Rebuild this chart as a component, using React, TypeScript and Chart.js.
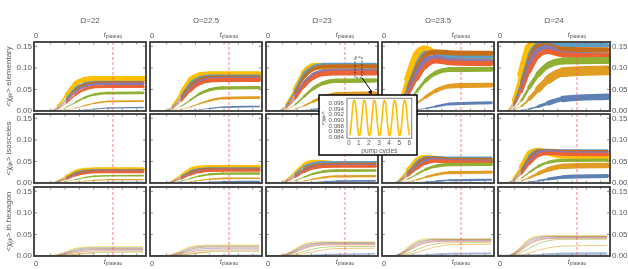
import React, { useEffect, useRef } from "react";
import { Chart, registerables } from "chart.js";

Chart.register(...registerables);

const FONT = "'Liberation Sans', Arial, sans-serif";
const TEXT = "#5a5a5a";
Chart.defaults.font.family = FONT;

// ---------- labels / ticks ----------
const OMEGA_LABELS = ["Ω=22", "Ω=22.5", "Ω=23", "Ω=23.5", "Ω=24"];
const ROW_NAMES = ["elementary", "isosceles", "in hexagon"];
const Y_TICK_VALUES = [0, 0.05, 0.1, 0.15];
const Y_MAX = 0.16;
const T_PLATEAU = 0.705;
const FRAME_X_TICKS = [0.149, 0.277, 0.405, 0.533, 0.661, 0.789, 0.917];

// ---------- time grids (fraction of run) ----------
const TIME_22 = [0, 0.13, 0.21, 0.29, 0.37, 0.45, 0.54, 0.66, 0.975];
const TIME_22_5 = [0, 0.12, 0.2, 0.28, 0.36, 0.44, 0.53, 0.65, 0.975];
const TIME_23 = [0, 0.1, 0.18, 0.26, 0.34, 0.42, 0.51, 0.63, 0.975];
const TIME_23_5 = [0, 0.08, 0.16, 0.23, 0.31, 0.39, 0.48, 0.6, 0.975];
const TIME_24 = [0, 0.07, 0.14, 0.21, 0.28, 0.36, 0.45, 0.58, 0.975];

const SERIES_COLORS = ["#5E81B5", "#E19C24", "#8FB032", "#EB6235", "#8778B3", "#C56E1A", "#5D9EC7", "#FFBF00"];

// ---------- elementary ----------
const ELEMENTARY_22 = [
  [0, 0, 0.0001, 0.0005, 0.0012, 0.0026, 0.0045, 0.0068, 0.008],
  [0, 0, 0.0007, 0.0028, 0.0069, 0.0124, 0.0179, 0.0221, 0.023],
  [0, 0, 0.0021, 0.0088, 0.0197, 0.0307, 0.0382, 0.0416, 0.042],
  [0, 0, 0.0046, 0.0188, 0.0376, 0.0502, 0.0559, 0.057, 0.057],
  [0, 0, 0.0057, 0.0233, 0.0441, 0.0567, 0.0617, 0.063, 0.063],
  [0, 0, 0.0066, 0.0264, 0.0495, 0.0614, 0.0653, 0.066, 0.066],
  [0, 0, 0.008, 0.0295, 0.0536, 0.0637, 0.067, 0.067, 0.067],
  [0, 0, 0.0113, 0.0375, 0.0638, 0.0728, 0.075, 0.075, 0.075],
];
const ELEMENTARY_22_5 = [
  [0, 0, 0.0002, 0.0006, 0.0016, 0.0034, 0.0059, 0.0089, 0.0105],
  [0, 0, 0.0009, 0.0037, 0.0093, 0.0167, 0.0242, 0.0298, 0.031],
  [0, 0, 0.0027, 0.0113, 0.0254, 0.0394, 0.0491, 0.0535, 0.054],
  [0, 0, 0.0058, 0.0238, 0.0475, 0.0634, 0.0706, 0.072, 0.072],
  [0, 0, 0.0068, 0.0281, 0.0532, 0.0684, 0.0745, 0.076, 0.076],
  [0, 0, 0.0079, 0.0316, 0.0593, 0.0735, 0.0782, 0.079, 0.079],
  [0, 0, 0.0097, 0.0356, 0.0648, 0.077, 0.081, 0.081, 0.081],
  [0, 0, 0.0128, 0.0425, 0.0723, 0.0825, 0.085, 0.085, 0.085],
];
const ELEMENTARY_23 = [
  [0, 0, 0.0002, 0.0007, 0.0018, 0.0038, 0.0067, 0.0102, 0.012],
  [0, 0, 0.0012, 0.0049, 0.0123, 0.0221, 0.032, 0.0394, 0.041],
  [0, 0, 0.0036, 0.0149, 0.0334, 0.0518, 0.0646, 0.0703, 0.071],
  [0, 0, 0.007, 0.029, 0.0581, 0.0774, 0.0862, 0.088, 0.088],
  [0, 0, 0.0085, 0.0348, 0.0658, 0.0846, 0.0921, 0.094, 0.094],
  [0, 0, 0.0104, 0.0416, 0.078, 0.0967, 0.103, 0.104, 0.104],
  [0, 0, 0.0128, 0.0471, 0.0856, 0.1017, 0.107, 0.107, 0.107],
  [0, 0, 0.015, 0.05, 0.087, 0.103, 0.104, 0.098, 0.097],
];
const ELEMENTARY_23_5 = [
  [0, 0, 0.0003, 0.0011, 0.0029, 0.0061, 0.0106, 0.0162, 0.019],
  [0, 0, 0.0018, 0.0072, 0.018, 0.0324, 0.0468, 0.0576, 0.06],
  [0, 0, 0.0049, 0.0204, 0.0456, 0.0708, 0.0883, 0.096, 0.097],
  [0, 0, 0.009, 0.036, 0.074, 0.104, 0.116, 0.112, 0.11],
  [0, 0, 0.011, 0.044, 0.087, 0.118, 0.124, 0.117, 0.115],
  [0, 0, 0.013, 0.052, 0.1, 0.13, 0.137, 0.135, 0.134],
  [0, 0, 0.015, 0.057, 0.108, 0.135, 0.133, 0.127, 0.126],
  [0, 0, 0.022, 0.075, 0.13, 0.143, 0.128, 0.116, 0.114],
];
const ELEMENTARY_24 = [
  [0, 0, 0.0005, 0.002, 0.005, 0.0106, 0.0185, 0.028, 0.033],
  [0, 0, 0.0028, 0.0113, 0.0282, 0.0508, 0.0733, 0.0902, 0.094],
  [0, 0, 0.0059, 0.0246, 0.055, 0.0854, 0.1065, 0.1158, 0.117],
  [0, 0, 0.011, 0.045, 0.092, 0.128, 0.138, 0.13, 0.128],
  [0, 0, 0.013, 0.053, 0.106, 0.142, 0.147, 0.132, 0.13],
  [0, 0, 0.016, 0.062, 0.118, 0.15, 0.151, 0.143, 0.142],
  [0, 0, 0.019, 0.07, 0.13, 0.155, 0.155, 0.153, 0.153],
  [0, 0, 0.024, 0.085, 0.145, 0.155, 0.145, 0.136, 0.135],
];

// ---------- isosceles ----------
const ISOSCELES_22 = [
  [0, 0, 0, 0.0001, 0.0003, 0.0006, 0.0011, 0.0017, 0.002],
  [0, 0, 0.0002, 0.001, 0.0024, 0.0043, 0.0062, 0.0077, 0.008],
  [0, 0, 0.0009, 0.0036, 0.008, 0.0124, 0.0155, 0.0168, 0.017],
  [0, 0, 0.002, 0.0084, 0.0168, 0.0224, 0.025, 0.0255, 0.0255],
  [0, 0, 0.0024, 0.01, 0.0189, 0.0243, 0.0265, 0.027, 0.027],
  [0, 0, 0.0029, 0.0116, 0.0218, 0.027, 0.0287, 0.029, 0.029],
  [0, 0, 0.0036, 0.0132, 0.024, 0.0285, 0.03, 0.03, 0.03],
  [0, 0, 0.0048, 0.016, 0.0272, 0.031, 0.032, 0.032, 0.032],
];
const ISOSCELES_22_5 = [
  [0, 0, 0.0001, 0.0002, 0.0005, 0.0011, 0.002, 0.003, 0.0035],
  [0, 0, 0.0003, 0.0013, 0.0033, 0.0059, 0.0086, 0.0106, 0.011],
  [0, 0, 0.0011, 0.0046, 0.0103, 0.0161, 0.02, 0.0218, 0.022],
  [0, 0, 0.0023, 0.0096, 0.0191, 0.0255, 0.0284, 0.029, 0.029],
  [0, 0, 0.0028, 0.0115, 0.0217, 0.0279, 0.0304, 0.031, 0.031],
  [0, 0, 0.0033, 0.0132, 0.0248, 0.0307, 0.0327, 0.033, 0.033],
  [0, 0, 0.0041, 0.015, 0.0272, 0.0323, 0.034, 0.034, 0.034],
  [0, 0, 0.0056, 0.0185, 0.0315, 0.0359, 0.037, 0.037, 0.037],
];
const ISOSCELES_23 = [
  [0, 0, 0.0001, 0.0003, 0.0008, 0.0016, 0.0028, 0.0043, 0.005],
  [0, 0, 0.0005, 0.0019, 0.0048, 0.0086, 0.0125, 0.0154, 0.016],
  [0, 0, 0.0015, 0.0061, 0.0136, 0.0212, 0.0264, 0.0287, 0.029],
  [0, 0, 0.0031, 0.0129, 0.0257, 0.0343, 0.0382, 0.039, 0.039],
  [0, 0, 0.0037, 0.0152, 0.0287, 0.0369, 0.0402, 0.041, 0.041],
  [0, 0, 0.0044, 0.0176, 0.033, 0.0409, 0.0436, 0.044, 0.044],
  [0, 0, 0.0058, 0.0211, 0.0384, 0.0456, 0.048, 0.048, 0.048],
  [0, 0, 0.0075, 0.025, 0.043, 0.05, 0.049, 0.0465, 0.046],
];
const ISOSCELES_23_5 = [
  [0, 0, 0.0001, 0.0005, 0.0011, 0.0024, 0.0042, 0.0064, 0.0075],
  [0, 0, 0.0008, 0.003, 0.0075, 0.0135, 0.0195, 0.024, 0.025],
  [0, 0, 0.0022, 0.009, 0.0202, 0.0314, 0.0391, 0.0426, 0.043],
  [0, 0, 0.004, 0.016, 0.033, 0.046, 0.051, 0.049, 0.048],
  [0, 0, 0.0047, 0.019, 0.038, 0.052, 0.055, 0.052, 0.051],
  [0, 0, 0.0055, 0.022, 0.043, 0.057, 0.058, 0.0555, 0.055],
  [0, 0, 0.0065, 0.025, 0.048, 0.059, 0.059, 0.058, 0.058],
  [0, 0, 0.009, 0.03, 0.053, 0.06, 0.057, 0.053, 0.052],
];
const ISOSCELES_24 = [
  [0, 0, 0.0002, 0.001, 0.0024, 0.0051, 0.009, 0.0136, 0.016],
  [0, 0, 0.0012, 0.0049, 0.0122, 0.0219, 0.0316, 0.0389, 0.0405],
  [0, 0, 0.0027, 0.0111, 0.0249, 0.0387, 0.0482, 0.0525, 0.053],
  [0, 0, 0.005, 0.021, 0.045, 0.064, 0.069, 0.067, 0.066],
  [0, 0, 0.006, 0.024, 0.051, 0.07, 0.073, 0.071, 0.07],
  [0, 0, 0.007, 0.028, 0.057, 0.074, 0.075, 0.0735, 0.073],
  [0, 0, 0.008, 0.032, 0.062, 0.076, 0.076, 0.075, 0.075],
  [0, 0, 0.011, 0.038, 0.068, 0.075, 0.07, 0.063, 0.062],
];

// ---------- in hexagon ----------
const HEXAGON_22 = [
  [0, 0, 0, 0.0001, 0.0002, 0.0003, 0.0006, 0.0009, 0.001],
  [0, 0, 0.0003, 0.0015, 0.0035, 0.0052, 0.006],
  [0, 0, 0.0005, 0.0019, 0.0042, 0.0066, 0.0082, 0.0089, 0.009],
  [0, 0, 0.001, 0.004, 0.0079, 0.0106, 0.0118, 0.012, 0.012],
  [0, 0, 0.0014, 0.0056, 0.0105, 0.0135, 0.0147, 0.015, 0.015],
  [0, 0, 0.0017, 0.0068, 0.0128, 0.0158, 0.0168, 0.017, 0.017],
  [0, 0, 0.0023, 0.0084, 0.0152, 0.0181, 0.019, 0.019, 0.019],
  [0, 0, 0.0032, 0.0105, 0.0179, 0.0204, 0.021, 0.021, 0.021],
];
const HEXAGON_22_5 = [
  [0, 0, 0, 0.0001, 0.0003, 0.0006, 0.0011, 0.0017, 0.002],
  [0, 0, 0.0004, 0.002, 0.0047, 0.007, 0.008],
  [0, 0, 0.0006, 0.0023, 0.0052, 0.008, 0.01, 0.0109, 0.011],
  [0, 0, 0.0011, 0.0046, 0.0092, 0.0123, 0.0137, 0.014, 0.014],
  [0, 0, 0.0016, 0.0067, 0.0126, 0.0162, 0.0176, 0.018, 0.018],
  [0, 0, 0.0021, 0.0084, 0.0158, 0.0195, 0.0208, 0.021, 0.021],
  [0, 0, 0.0028, 0.0101, 0.0184, 0.0219, 0.023, 0.023, 0.023],
  [0, 0, 0.0038, 0.0125, 0.0213, 0.0243, 0.025, 0.025, 0.025],
];
const HEXAGON_23 = [
  [0, 0, 0.0001, 0.0003, 0.0008, 0.0016, 0.0028, 0.0043, 0.005],
  [0, 0, 0.0005, 0.0022, 0.0054, 0.0097, 0.014, 0.0173, 0.018],
  [0, 0, 0.0011, 0.0046, 0.0103, 0.0161, 0.02, 0.0218, 0.022],
  [0, 0, 0.0021, 0.0086, 0.0172, 0.0229, 0.0255, 0.026, 0.026],
  [0, 0, 0.0025, 0.0104, 0.0196, 0.0252, 0.0274, 0.028, 0.028],
  [0, 0, 0.003, 0.012, 0.0225, 0.0279, 0.0297, 0.03, 0.03],
  [0, 0, 0.0037, 0.0136, 0.0248, 0.0295, 0.031, 0.031, 0.031],
  [0, 0, 0.0048, 0.016, 0.028, 0.0325, 0.033, 0.0322, 0.032],
];
const HEXAGON_23_5 = [
  [0, 0, 0.0001, 0.0004, 0.0009, 0.0019, 0.0034, 0.0051, 0.006],
  [0, 0, 0.0008, 0.0032, 0.0081, 0.0146, 0.0211, 0.0259, 0.027],
  [0, 0, 0.0016, 0.0065, 0.0146, 0.0226, 0.0282, 0.0307, 0.031],
  [0, 0, 0.0027, 0.0112, 0.0224, 0.0299, 0.0333, 0.034, 0.034],
  [0, 0, 0.0032, 0.0133, 0.0252, 0.0324, 0.0353, 0.036, 0.036],
  [0, 0, 0.0038, 0.0152, 0.0285, 0.0353, 0.0376, 0.038, 0.038],
  [0, 0, 0.0047, 0.0172, 0.0312, 0.0371, 0.039, 0.039, 0.039],
  [0, 0, 0.006, 0.02, 0.034, 0.04, 0.0398, 0.0392, 0.039],
];
const HEXAGON_24 = [
  [0, 0, 0.0001, 0.0004, 0.0009, 0.0019, 0.0034, 0.0051, 0.006],
  [0, 0, 0.0007, 0.0029, 0.0072, 0.013, 0.0187, 0.023, 0.024],
  [0, 0, 0.002, 0.0082, 0.0183, 0.0285, 0.0355, 0.0386, 0.039],
  [0, 0, 0.0033, 0.0135, 0.0271, 0.0361, 0.0402, 0.041, 0.041],
  [0, 0, 0.0039, 0.0159, 0.0301, 0.0387, 0.0421, 0.043, 0.043],
  [0, 0, 0.0045, 0.018, 0.0338, 0.0419, 0.0446, 0.045, 0.045],
  [0, 0, 0.0055, 0.0202, 0.0368, 0.0437, 0.046, 0.046, 0.046],
  [0, 0, 0.007, 0.023, 0.04, 0.047, 0.0468, 0.0462, 0.046],
];

// ---------- inset: one pump-cycle window ----------
const INSET_CYCLES = [
  0, 0.125, 0.25, 0.375, 0.5, 0.625, 0.75, 0.875,
  1, 1.125, 1.25, 1.375, 1.5, 1.625, 1.75, 1.875,
  2, 2.125, 2.25, 2.375, 2.5, 2.625, 2.75, 2.875,
  3, 3.125, 3.25, 3.375, 3.5, 3.625, 3.75, 3.875,
  4, 4.125, 4.25, 4.375, 4.5, 4.625, 4.75, 4.875,
  5, 5.125, 5.25, 5.375, 5.5, 5.625, 5.75, 5.875, 6,
];
const INSET_CHI = [
  0.0847, 0.0851, 0.0889, 0.0938, 0.097, 0.0966, 0.0928, 0.0879,
  0.0847, 0.0851, 0.0889, 0.0938, 0.097, 0.0966, 0.0928, 0.0879,
  0.0847, 0.0851, 0.0889, 0.0938, 0.097, 0.0966, 0.0928, 0.0879,
  0.0847, 0.0851, 0.0889, 0.0938, 0.097, 0.0966, 0.0928, 0.0879,
  0.0847, 0.0851, 0.0889, 0.0938, 0.097, 0.0966, 0.0928, 0.0879,
  0.0847, 0.0851, 0.0889, 0.0938, 0.097, 0.0966, 0.0928, 0.0879, 0.0847,
];
const INSET_X_TICKS = [0, 1, 2, 3, 4, 5, 6];
const INSET_Y_TICKS = [0.084, 0.086, 0.088, 0.09, 0.092, 0.094, 0.096];
const ZOOM_BOX_T = [0.795, 0.857];
const ZOOM_BOX_Y = [0.077, 0.125];

// ---------- styles / layout ----------
const WIDTH_ELEMENTARY = [
  [1.5, 1.8, 2.7, 3, 2.5, 2.5, 2.5, 5.5],
  [1.7, 2.7, 3.3, 4, 3, 3, 3, 6],
  [2.5, 4, 4.5, 5, 4, 4, 4, 7],
  [3.3, 5, 5, 5, 5, 5, 4, 8],
  [7, 10, 7, 5, 5, 5, 4, 10],
];
const WIDTH_ISOSCELES = [
  [1, 1.2, 1.7, 2.3, 2, 2, 2, 3.7],
  [1.5, 1.7, 2.3, 2.7, 2.2, 2.2, 2.2, 4],
  [1.7, 2.3, 2.7, 3, 2.5, 2.5, 2.5, 3.5],
  [2.3, 3.3, 3.3, 3.5, 3, 3, 3, 5],
  [4.3, 5.7, 3.3, 3.5, 3, 3, 3, 6],
];
const WIDTH_HEXAGON = [
  [1, 1, 1, 1, 1, 1, 1, 1.2],
  [1, 1, 1, 1, 1, 1, 1, 1.2],
  [1.5, 1, 1, 1, 1, 1, 1, 1.2],
  [2, 1, 1, 1, 1, 1, 1, 1.2],
  [2.5, 1, 1, 1, 1, 1, 1, 1.2],
];

const PANELS = [
  [ELEMENTARY_22, ELEMENTARY_22_5, ELEMENTARY_23, ELEMENTARY_23_5, ELEMENTARY_24],
  [ISOSCELES_22, ISOSCELES_22_5, ISOSCELES_23, ISOSCELES_23_5, ISOSCELES_24],
  [HEXAGON_22, HEXAGON_22_5, HEXAGON_23, HEXAGON_23_5, HEXAGON_24],
];
const TIMES = [TIME_22, TIME_22_5, TIME_23, TIME_23_5, TIME_24];
const WIDTHS = [WIDTH_ELEMENTARY, WIDTH_ISOSCELES, WIDTH_HEXAGON];

const PAGE_W = 628;
const PAGE_H = 269;
const COL_LEFT = [34, 150, 266, 382, 498];
const ROW_TOP = [42, 114, 187];
const PANEL_W = 112;
const PANEL_H = 69;
const INSET_BOX = { x: 319, y: 95, w: 98, h: 60 };
const INSET_AREA = { left: 347, top: 98.3, right: 411.7, bottom: 138.3 };

function rgba(hex: string, a: number) {
  const n = parseInt(hex.slice(1), 16);
  return `rgba(${(n >> 16) & 255},${(n >> 8) & 255},${n & 255},${a})`;
}

type Part = { t: string; sub?: boolean; italic?: boolean };
function drawRich(ctx: CanvasRenderingContext2D, parts: Part[], x: number, y: number, size: number, subSize: number, subDy: number) {
  const fonts = parts.map((p) => `${p.italic ? "italic " : ""}${p.sub ? subSize : size}px ${FONT}`);
  const widths = parts.map((p, i) => {
    ctx.font = fonts[i];
    return ctx.measureText(p.t).width;
  });
  const total = widths.reduce((a, b) => a + b, 0);
  let cx = x - total / 2;
  ctx.textAlign = "left";
  parts.forEach((p, i) => {
    ctx.font = fonts[i];
    ctx.fillText(p.t, cx, p.sub ? y + subDy : y);
    cx += widths[i];
  });
}

function seg(ctx: CanvasRenderingContext2D, x0: number, y0: number, x1: number, y1: number) {
  ctx.beginPath();
  ctx.moveTo(x0, y0);
  ctx.lineTo(x1, y1);
  ctx.stroke();
}

function panelPlugin(row: number, col: number) {
  return {
    id: "panelDeco",
    afterDatasetsDraw(chart: any) {
      const { ctx, chartArea: a, scales } = chart;
      const xs = scales.x;
      const ys = scales.y;
      ctx.save();
      const px = xs.getPixelForValue(T_PLATEAU);
      ctx.strokeStyle = "rgba(255,90,90,0.55)";
      ctx.lineWidth = 1.4;
      ctx.setLineDash([3, 2]);
      seg(ctx, px, a.top, px, a.bottom);
      ctx.setLineDash([]);

      ctx.strokeStyle = "#777";
      ctx.lineWidth = 0.8;
      Y_TICK_VALUES.forEach((v) => {
        const py = ys.getPixelForValue(v);
        seg(ctx, a.left, py, a.left + 3, py);
        seg(ctx, a.right - 3, py, a.right, py);
      });
      FRAME_X_TICKS.forEach((v) => {
        const qx = xs.getPixelForValue(v);
        seg(ctx, qx, a.top, qx, a.top + 2.5);
        seg(ctx, qx, a.bottom - 2.5, qx, a.bottom);
      });

      ctx.strokeStyle = "#3a3a3a";
      ctx.lineWidth = 1.8;
      ctx.strokeRect(a.left, a.top, a.right - a.left, a.bottom - a.top);

      ctx.fillStyle = TEXT;
      ctx.textBaseline = "alphabetic";
      const x0 = xs.getPixelForValue(0) + 2;
      if (row === 0) {
        ctx.font = `8px ${FONT}`;
        ctx.textAlign = "center";
        ctx.fillText(OMEGA_LABELS[col], (a.left + a.right) / 2, 23);
        ctx.font = `7.5px ${FONT}`;
        ctx.fillText("0", x0, a.top - 4.5);
        drawRich(ctx, [{ t: "t", italic: true }, { t: "plateau", sub: true }], px, a.top - 5.5, 7.5, 5, 1.3);
      }
      if (row === 2) {
        ctx.font = `7.5px ${FONT}`;
        ctx.textAlign = "center";
        ctx.fillText("0", x0, a.bottom + 9.5);
        drawRich(ctx, [{ t: "t", italic: true }, { t: "plateau", sub: true }], px, a.bottom + 7.5, 7.5, 5, 1.3);
      }
      if (col === 0) {
        ctx.save();
        ctx.translate(9, (a.top + a.bottom) / 2);
        ctx.rotate(-Math.PI / 2);
        ctx.textBaseline = "middle";
        drawRich(ctx, [{ t: "<χ" }, { t: "ijk", sub: true }, { t: "> " + ROW_NAMES[row] }], 0, 0, 8, 5.5, 1.8);
        ctx.restore();
      }
      if (row === 0 && col === 2) {
        const bx0 = xs.getPixelForValue(ZOOM_BOX_T[0]);
        const bx1 = xs.getPixelForValue(ZOOM_BOX_T[1]);
        const byTop = ys.getPixelForValue(ZOOM_BOX_Y[1]);
        const byBot = ys.getPixelForValue(ZOOM_BOX_Y[0]);
        ctx.strokeStyle = "#222";
        ctx.lineWidth = 0.8;
        ctx.setLineDash([2, 1.5]);
        ctx.strokeRect(bx0, byTop, bx1 - bx0, byBot - byTop);
        ctx.setLineDash([]);
        const ex = INSET_BOX.x + 53;
        const ey = INSET_BOX.y;
        ctx.strokeStyle = "#000";
        ctx.lineWidth = 1;
        seg(ctx, bx1, byBot, ex, ey - 3);
        const ang = Math.atan2(ey - byBot, ex - bx1);
        ctx.fillStyle = "#000";
        ctx.beginPath();
        ctx.moveTo(ex, ey);
        ctx.lineTo(ex - 5 * Math.cos(ang - 0.4), ey - 5 * Math.sin(ang - 0.4));
        ctx.lineTo(ex - 5 * Math.cos(ang + 0.4), ey - 5 * Math.sin(ang + 0.4));
        ctx.closePath();
        ctx.fill();
      }
      ctx.restore();
    },
  };
}

function panelConfig(row: number, col: number): any {
  const left = COL_LEFT[col];
  const top = ROW_TOP[row];
  const series = PANELS[row][col];
  const times = TIMES[col];
  const widths = WIDTHS[row][col];
  const pale = row === 2;
  const showLeft = col === 0;
  const showRight = col === 4;
  const datasets = series.map((vals: number[], k: number) => {
    const plateau = Math.max(vals[vals.length - 1], 1e-6);
    const w = widths[k];
    return {
      data: vals.map((v, i) => ({ x: times[i], y: v })),
      borderColor: pale ? rgba(SERIES_COLORS[k], 0.55) : SERIES_COLORS[k],
      borderWidth: w,
      borderCapStyle: pale ? "butt" : "round",
      pointRadius: 0,
      cubicInterpolationMode: "monotone",
      clip: 0,
      segment: pale
        ? undefined
        : {
            borderWidth: (c: any) =>
              Math.max(0.4, Math.min(w, (w * (c.p0.parsed.y + c.p1.parsed.y)) / 2 / plateau)),
          },
    };
  });
  const yScale: any = {
    type: "linear",
    min: 0,
    max: Y_MAX,
    display: showLeft || showRight,
    position: showRight ? "right" : "left",
    afterBuildTicks: (s: any) => {
      s.ticks = Y_TICK_VALUES.map((v) => ({ value: v }));
    },
    ticks: {
      callback: (v: any) => Number(v).toFixed(2),
      font: { family: FONT, size: 8 },
      color: TEXT,
      padding: 2,
    },
    grid: { display: false, drawTicks: false },
    border: { display: false },
  };
  if (showLeft || showRight) {
    yScale.afterFit = (s: any) => {
      s.width = showLeft ? left : PAGE_W - left - PANEL_W;
    };
  }
  return {
    type: "line",
    data: { datasets },
    options: {
      responsive: false,
      animation: false,
      events: [],
      layout: {
        padding: {
          left: showLeft ? 0 : left,
          top,
          right: showRight ? 0 : PAGE_W - left - PANEL_W,
          bottom: PAGE_H - top - PANEL_H,
        },
      },
      plugins: { legend: { display: false }, tooltip: { enabled: false } },
      scales: {
        x: { type: "linear", min: 0, max: 1, display: false },
        y: yScale,
      },
    },
    plugins: [panelPlugin(row, col)],
  };
}

const insetPlugin = {
  id: "insetDeco",
  beforeDraw(chart: any) {
    const ctx = chart.ctx;
    ctx.save();
    ctx.fillStyle = "#fff";
    ctx.fillRect(INSET_BOX.x, INSET_BOX.y, INSET_BOX.w, INSET_BOX.h);
    ctx.strokeStyle = "#000";
    ctx.lineWidth = 1.5;
    ctx.strokeRect(INSET_BOX.x, INSET_BOX.y, INSET_BOX.w, INSET_BOX.h);
    ctx.restore();
  },
  afterDraw(chart: any) {
    const { ctx, chartArea: a } = chart;
    ctx.save();
    ctx.strokeStyle = "#808080";
    ctx.lineWidth = 1;
    ctx.strokeRect(a.left, a.top, a.right - a.left, a.bottom - a.top);
    ctx.fillStyle = TEXT;
    ctx.translate(INSET_BOX.x + 4, (a.top + a.bottom) / 2);
    ctx.rotate(-Math.PI / 2);
    ctx.textBaseline = "middle";
    drawRich(ctx, [{ t: "<χ" }, { t: "ijk", sub: true }, { t: ">" }], 0, 0, 6, 4.2, 1.3);
    ctx.restore();
  },
};

function insetConfig(): any {
  return {
    type: "line",
    data: {
      datasets: [
        {
          data: INSET_CYCLES.map((t, i) => ({ x: t, y: INSET_CHI[i] })),
          borderColor: "#FFBF00",
          borderWidth: 1.6,
          pointRadius: 0,
          tension: 0.4,
          clip: 0,
        },
      ],
    },
    options: {
      responsive: false,
      animation: false,
      events: [],
      layout: {
        padding: {
          left: INSET_BOX.x,
          top: INSET_AREA.top,
          right: PAGE_W - INSET_AREA.right,
          bottom: PAGE_H - INSET_AREA.bottom - 17,
        },
      },
      plugins: { legend: { display: false }, tooltip: { enabled: false } },
      scales: {
        x: {
          type: "linear",
          min: -0.17,
          max: 6.24,
          afterFit: (s: any) => {
            s.height = 17;
          },
          afterBuildTicks: (s: any) => {
            s.ticks = INSET_X_TICKS.map((v) => ({ value: v }));
          },
          ticks: {
            autoSkip: false,
            maxRotation: 0,
            font: { family: FONT, size: 6.5 },
            color: TEXT,
            padding: 1,
            callback: (v: any) => String(v),
          },
          grid: { display: false, drawTicks: false },
          border: { display: false },
          title: {
            display: true,
            text: "pump cycles",
            font: { family: FONT, size: 6.5 },
            color: TEXT,
            padding: { top: 0, bottom: 0 },
          },
        },
        y: {
          type: "linear",
          min: 0.0836,
          max: 0.0978,
          afterFit: (s: any) => {
            s.width = INSET_AREA.left - INSET_BOX.x;
          },
          afterBuildTicks: (s: any) => {
            s.ticks = INSET_Y_TICKS.map((v) => ({ value: v }));
          },
          ticks: {
            autoSkip: false,
            font: { family: FONT, size: 6.2 },
            color: TEXT,
            padding: 3,
            callback: (v: any) => Number(v).toFixed(3),
          },
          grid: { display: false, drawTicks: false },
          border: { display: false },
        },
      },
    },
    plugins: [insetPlugin],
  };
}

export default function App() {
  const refs = useRef<(HTMLCanvasElement | null)[]>([]);
  useEffect(() => {
    const charts: Chart[] = [];
    for (let r = 0; r < 3; r++) {
      for (let c = 0; c < 5; c++) {
        const cv = refs.current[r * 5 + c];
        if (cv) charts.push(new Chart(cv, panelConfig(r, c)));
      }
    }
    const inset = refs.current[15];
    if (inset) charts.push(new Chart(inset, insetConfig()));
    return () => charts.forEach((ch) => ch.destroy());
  }, []);
  return (
    <div style={{ position: "absolute", left: 0, top: 0, width: PAGE_W, height: PAGE_H, background: "#fff", overflow: "hidden" }}>
      {Array.from({ length: 16 }).map((_, i) => (
        <canvas
          key={i}
          ref={(el) => {
            refs.current[i] = el;
          }}
          width={PAGE_W}
          height={PAGE_H}
          style={{ position: "absolute", left: 0, top: 0 }}
        />
      ))}
    </div>
  );
}
